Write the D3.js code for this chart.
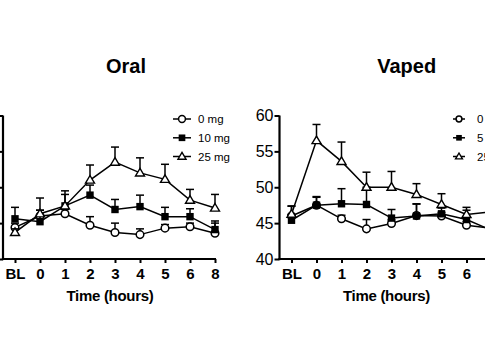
<!DOCTYPE html>
<html>
<head>
<meta charset="utf-8">
<script src="https://cdn.jsdelivr.net/npm/d3@7"></script>
<style>
  html, body { margin: 0; padding: 0; background: #fff; }
  svg { display: block; font-family: "Liberation Sans", Arial, sans-serif; }
</style>
</head>
<body>
<script>
// ---------- data ----------
const categories = ["BL", "0", "1", "2", "3", "4", "5", "6", "8"];
const yTicks = [40, 45, 50, 55, 60];

// Oral panel
const oralLegend = ["0 mg", "10 mg", "25 mg"];
const oral0     = [44.4, 46.0, 46.3, 44.7, 43.7, 43.4, 44.3, 44.5, 43.6];
const oral0Err  = [0.6, 0.8, 0.6, 1.2, 1.3, 0.8, 0.5, 0.5, 1.4];
const oral10    = [45.6, 45.2, 47.4, 48.9, 46.9, 47.3, 45.9, 45.9, 44.1];
const oral10Err = [1.6, 1.6, 1.6, 1.4, 1.4, 1.6, 1.3, 1.1, 1.2];
const oral25    = [43.7, 46.3, 47.4, 51.0, 53.5, 52.0, 51.1, 48.2, 47.1];
const oral25Err = [0.5, 2.2, 2.1, 2.1, 2.1, 2.1, 2.1, 1.5, 1.9];

// Vaped panel
const vapedLegend = ["0 mg", "5 mg", "25 mg"];
const vaped0     = [46.0, 47.5, 45.6, 44.2, 44.95, 46.05, 46.0, 44.7, 44.3];
const vaped0Err  = [1.4, 1.2, 0.5, 1.3, 0.5, 1.6, 0.5, 0.5, 0.5];
const vaped5     = [45.4, 47.5, 47.7, 47.6, 45.7, 46.0, 46.3, 45.5, 44.0];
const vaped5Err  = [0.8, 1.1, 2.1, 2.4, 1.2, 1.7, 0.8, 1.3, 0.8];
const vaped25    = [46.25, 56.5, 53.6, 50.0, 50.0, 49.0, 47.6, 46.2, 46.6];
const vaped25Err = [1.1, 2.25, 2.7, 2.1, 2.2, 1.5, 1.5, 1.0, 1.0];

// ---------- drawing ----------
const W = 485, H = 360;
const svg = d3.select("body").append("svg").attr("width", W).attr("height", H);
svg.append("rect").attr("width", W).attr("height", H).attr("fill", "#fff");

const y = d3.scaleLinear().domain([40, 60]).range([259, 115.5]);

const panels = [
  { title: "Oral", axisX: 3, titleX: 126, legendX: 173, legendLen: 18, legendTextX: 198, markScale: 1,
    showYLabels: false,
    legend: oralLegend,
    series: [
      { shape: "circle", values: oral0, err: oral0Err },
      { shape: "square", values: oral10, err: oral10Err },
      { shape: "triangle", values: oral25, err: oral25Err }
    ] },
  { title: "Vaped", axisX: 279.5, titleX: 406.7, legendX: 453, legendLen: 12, legendTextX: 477, markScale: 0.85,
    showYLabels: true,
    legend: vapedLegend,
    series: [
      { shape: "circle", values: vaped0, err: vaped0Err },
      { shape: "square", values: vaped5, err: vaped5Err },
      { shape: "triangle", values: vaped25, err: vaped25Err }
    ] }
];

function marker(g, shape, cx, cy, s) {
  if (shape === "circle") {
    g.append("circle").attr("cx", cx).attr("cy", cy).attr("r", 3.8 * s)
      .attr("fill", "#fff").attr("stroke", "#000").attr("stroke-width", 1.5);
  } else if (shape === "square") {
    const a = 7.4 * s;
    g.append("rect").attr("x", cx - a / 2).attr("y", cy - a / 2).attr("width", a).attr("height", a)
      .attr("fill", "#000");
  } else {
    const w = 9 * s, h = 7.6 * s;
    g.append("path")
      .attr("d", `M${cx},${cy - h * 0.6}L${cx + w / 2},${cy + h * 0.4}L${cx - w / 2},${cy + h * 0.4}Z`)
      .attr("fill", "#fff").attr("stroke", "#000").attr("stroke-width", 1.4).attr("stroke-linejoin", "miter");
  }
}

panels.forEach(p => {
  const g = svg.append("g");
  const x = d3.scalePoint().domain(categories).range([p.axisX + 12, p.axisX + 212]);

  // title
  g.append("text").attr("x", p.titleX).attr("y", 72.7).attr("text-anchor", "middle")
    .attr("font-size", 20).attr("font-weight", "bold").text(p.title);

  // y axis (the left panel's labels lie outside the cropped frame)
  const yAxis = d3.axisLeft(y).tickValues(yTicks).tickSize(5).tickSizeOuter(0).tickPadding(1);
  if (!p.showYLabels) yAxis.tickFormat(() => "");
  const ya = g.append("g").attr("transform", `translate(${p.axisX},0)`).call(yAxis);
  ya.select(".domain").attr("stroke-width", 2.2).attr("d", "M0,260.1V115.5");
  ya.selectAll(".tick line").attr("stroke-width", 2);
  ya.selectAll(".tick text").attr("font-size", 16).attr("font-family", "Liberation Sans, Arial, sans-serif")
    .attr("fill", "#000");
  if (!p.showYLabels) ya.selectAll(".tick text").remove();

  // x axis
  const xa = g.append("g").attr("transform", "translate(0,259)")
    .call(d3.axisBottom(x).tickSize(4).tickPadding(5));
  xa.select(".domain").remove();
  xa.selectAll(".tick line").attr("stroke-width", 2);
  xa.selectAll(".tick text").attr("font-size", 15).attr("font-weight", "bold")
    .attr("font-family", "Liberation Sans, Arial, sans-serif").attr("fill", "#000");
  g.append("line").attr("x1", p.axisX - 1.1).attr("x2", x(categories[categories.length - 1]) + 1)
    .attr("y1", 259).attr("y2", 259).attr("stroke", "#000").attr("stroke-width", 2.2);

  g.append("text").attr("x", p.axisX + 107).attr("y", 301).attr("text-anchor", "middle")
    .attr("font-size", 15).attr("font-weight", "bold").attr("letter-spacing", -0.3).text("Time (hours)");

  // series
  const line = d3.line().x((d, i) => x(categories[i])).y(d => y(d));
  p.series.forEach(s => {
    const sg = g.append("g");
    sg.append("path").attr("d", line(s.values)).attr("fill", "none")
      .attr("stroke", "#000").attr("stroke-width", 1.5);
    s.values.forEach((v, i) => {
      const cx = x(categories[i]);
      const top = y(v + s.err[i]);
      sg.append("line").attr("x1", cx).attr("x2", cx).attr("y1", y(v)).attr("y2", top)
        .attr("stroke", "#000").attr("stroke-width", 1.5);
      sg.append("line").attr("x1", cx - 4).attr("x2", cx + 4).attr("y1", top).attr("y2", top)
        .attr("stroke", "#000").attr("stroke-width", 1.5);
    });
    s.values.forEach((v, i) => marker(sg, s.shape, x(categories[i]), y(v), 1));
  });

  // legend
  const rowsY = [119, 137.8, 156.5];
  p.series.forEach((s, i) => {
    const lg = g.append("g");
    lg.append("line").attr("x1", p.legendX).attr("x2", p.legendX + p.legendLen)
      .attr("y1", rowsY[i]).attr("y2", rowsY[i]).attr("stroke", "#000").attr("stroke-width", 1.5);
    marker(lg, s.shape, p.legendX + p.legendLen / 2, rowsY[i], p.markScale * 0.9);
    lg.append("text").attr("x", p.legendTextX).attr("y", rowsY[i]).attr("dy", "0.36em")
      .attr("font-size", 11.5).text(p.legend[i]);
  });
});
</script>
</body>
</html>
